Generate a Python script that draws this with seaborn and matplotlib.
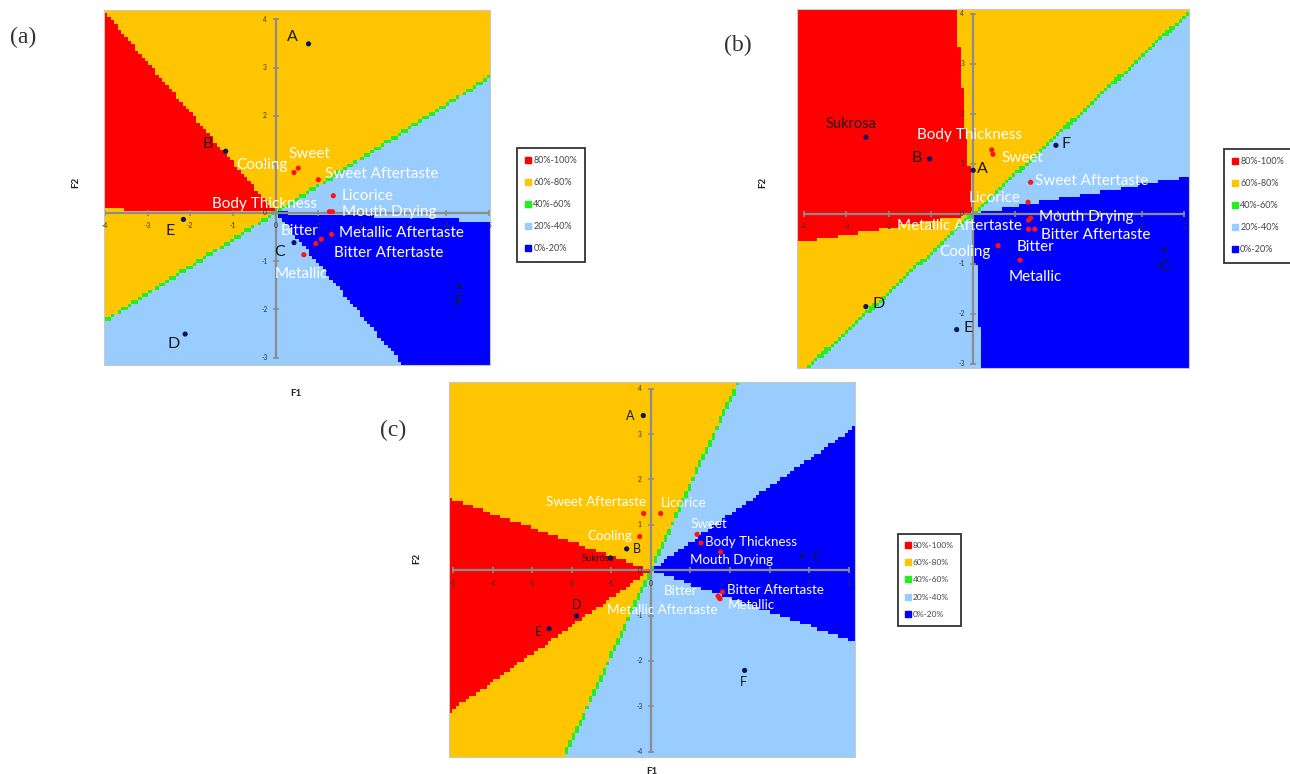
import numpy as np
import pandas as pd
import matplotlib.pyplot as plt
import seaborn as sns
from matplotlib.colors import ListedColormap
from matplotlib.lines import Line2D

# zones of the preference map, low to high
zone_labels = ['0%-20%', '20%-40%', '40%-60%', '60%-80%', '80%-100%']
zone_colors = ['#0000FF', '#99CCFF', '#22EE22', '#FFC600', '#FF0000']

# ---- panel (a) ----
a_products = ['A', 'B', 'C', 'D', 'E', 'F']
a_prod_x = [0.77, -1.17, 0.43, -2.12, -2.16, 4.30]
a_prod_y = [3.49, 1.27, -0.62, -2.51, -0.14, -1.53]
a_attrs = ['Cooling', 'Sweet', 'Sweet Aftertaste', 'Licorice', 'Body Thickness',
           'Mouth Drying', 'Metallic Aftertaste', 'Bitter', 'Bitter Aftertaste', 'Metallic']
a_attr_x = [0.43, 0.53, 1.00, 1.35, 1.26, 1.33, 1.31, 0.94, 1.07, 0.66]
a_attr_y = [0.83, 0.92, 0.68, 0.35, 0.02, 0.02, -0.45, -0.64, -0.55, -0.87]
# sector edges (deg, around origin) and zone index of the sector starting at each edge
a_edges = [-46.5, -2, 29.2, 134, 179, 209.2]
a_zones = [0, 1, 3, 4, 3, 1]
a_green = 29.2

# ---- panel (b) ----
b_products = ['Sukrosa', 'A', 'B', 'C', 'D', 'E', 'F']
b_prod_x = [-2.54, 0.0, -1.03, 4.53, -2.54, -0.39, 1.96]
b_prod_y = [1.53, 0.87, 1.10, -0.72, -1.86, -2.32, 1.37]
b_attrs = ['Body Thickness', 'Sweet', 'Sweet Aftertaste', 'Licorice', 'Mouth Drying',
           'Bitter Aftertaste', 'Metallic Aftertaste', 'Bitter', 'Cooling', 'Metallic']
b_attr_x = [0.44, 0.47, 1.36, 1.30, 1.36, 1.46, 1.31, 0.59, 1.31, 1.11]
b_attr_y = [1.28, 1.19, 0.63, 0.23, -0.09, -0.31, -0.31, -0.64, -0.13, -0.93]
b_edges = [-86.3, 8.3, 38.3, 95.8, 188, 218.3]
b_zones = [0, 1, 3, 4, 3, 1]
b_green = 38.3

# ---- panel (c) ----
c_products = ['A', 'B', 'C', 'D', 'E', 'F', 'Sukrosa']
c_prod_x = [-0.19, -0.61, 3.82, -1.88, -2.57, 2.37, -1.02]
c_prod_y = [3.41, 0.47, 0.32, -1.01, -1.29, -2.21, 0.27]
c_attrs = ['Sweet Aftertaste', 'Licorice', 'Cooling', 'Sweet', 'Body Thickness', 'Mouth Drying',
           'Bitter Aftertaste', 'Metallic', 'Bitter', 'Metallic Aftertaste']
c_attr_x = [-0.18, 0.25, -0.28, 1.17, 1.27, 1.76, 1.81, 1.73, 1.70, 1.75]
c_attr_y = [1.25, 1.25, 0.74, 0.79, 0.60, 0.40, -0.48, -0.61, -0.57, -0.63]
c_edges = [-17, 31.5, 62, 162.7, 211.6, 242]
c_zones = [0, 1, 3, 4, 3, 1]
c_green = 62

# ---- label placement (offset in pixels, alignment) ----
a_prod_pos = [(-16, 7, 'center'), (-18, 7, 'center'), (-14, -9, 'center'),
              (-12, -10, 'center'), (-13, -12, 'center'), (0, -15, 'center')]
a_attr_pos = [(-6, 8, 'right'), (-10, 14, 'left'), (7, 6, 'left'), (8, 0, 'left'),
              (-12, 8, 'right'), (10, 0, 'left'), (7, 1, 'left'), (3, 13, 'right'),
              (13, -14, 'left'), (-2.5, -19, 'center')]
b_prod_pos = [(-15, 13, 'center'), (9, 1, 'center'), (-13, 1, 'center'), (0, -17, 'center'),
              (13, 3, 'center'), (11, 2, 'center'), (10, 1, 'center')]
b_attr_pos = [(-22, 15, 'center'), (8, -4, 'left'), (4, 1, 'left'), (-8, 4, 'right'),
              (8, 1, 'left'), (6, -6, 'left'), (-7, 3, 'right'), (19, -1, 'left'),
              (-38, -32, 'right'), (15.5, -17, 'center')]
c_prod_pos = [(-12.7, 0, 'center'), (10, 0, 'center'), (15, -1, 'center'), (0, 11, 'center'),
              (-11, -3, 'center'), (-1, -12, 'center'), (-12, -1, 'center')]
c_attr_pos = [(2.7, 11, 'right'), (0, 10, 'left'), (-7, 1, 'right'), (-7, 10, 'left'),
              (4, 1, 'left'), (-30, -8, 'left'), (5, 2, 'left'), (8, -7, 'left'),
              (-20.6, 5, 'right'), (-2.5, -11.4, 'right')]

sns.set_style('white')
plt.rcParams['font.family'] = ['Lato', 'DejaVu Sans']

W, H = 1290, 774
fig = plt.figure(figsize=(W / 100, H / 100), dpi=100)


def px_axes(left, top, right, bottom):
    return fig.add_axes([left / W, 1 - bottom / H, (right - left) / W, (bottom - top) / H])


def zone_grid(edges, zones, green, xlim, ylim, nx, ny):
    xe = np.linspace(xlim[0], xlim[1], nx + 1)
    ye = np.linspace(ylim[0], ylim[1], ny + 1)
    X, Y = np.meshgrid((xe[:-1] + xe[1:]) / 2, (ye[:-1] + ye[1:]) / 2)
    ang = (np.degrees(np.arctan2(Y, X)) - edges[0]) % 360
    rel = (np.array(edges) - edges[0]) % 360
    Z = np.array(zones)[np.searchsorted(rel, ang, side='right') - 1]
    t = np.radians(green)
    dx, dy = xe[1] - xe[0], ye[1] - ye[0]
    tol = 0.58 * (dx / 2 * abs(np.sin(t)) + dy / 2 * abs(np.cos(t)))
    Z[np.abs(X * np.sin(t) - Y * np.cos(t)) < tol] = 2
    return xe, ye, Z


def draw_panel(ax, box, xlim, ylim, xticks, yticks, edges, zones, green,
               prods, px, py, ppos, attrs, ax_, ay_, apos, fs, pfs, sfs):
    cell = 3.4
    nx = int((box[2] - box[0]) / cell)
    ny = int((box[3] - box[1]) / cell)
    xe, ye, Z = zone_grid(edges, zones, green, xlim, ylim, nx, ny)
    ax.pcolormesh(xe, ye, Z, cmap=ListedColormap(zone_colors), vmin=-0.5, vmax=4.5,
                  shading='flat', zorder=0)

    # axis cross with ticks
    ax.plot([xticks[0], xticks[-1]], [0, 0], color='#8C8C8C', lw=1.6, zorder=2)
    ax.plot([0, 0], [yticks[0], yticks[-1]], color='#8C8C8C', lw=1.6, zorder=2)
    ax.plot(xticks, [0] * len(xticks), ls='none', marker='|', ms=5, mew=1.2, color='#8C8C8C', zorder=2)
    ax.plot([0] * len(yticks), yticks, ls='none', marker='_', ms=5, mew=1.2, color='#8C8C8C', zorder=2)
    for v in xticks:
        ax.annotate(str(v), (v, 0), xytext=(0, -13), textcoords='offset pixels',
                    ha='center', va='center', fontsize=4.8, color='#333333', zorder=3)
    for v in yticks:
        ax.annotate(str(v), (0, v), xytext=(-11, 0), textcoords='offset pixels',
                    ha='center', va='center', fontsize=4.8, color='#333333', zorder=3)

    df = pd.DataFrame({
        'x': list(px) + list(ax_),
        'y': list(py) + list(ay_),
        'kind': ['product'] * len(px) + ['attribute'] * len(ax_),
    })
    sns.scatterplot(data=df, x='x', y='y', hue='kind',
                    palette={'product': '#0A1466', 'attribute': '#FF1414'},
                    s=14, linewidth=0, legend=False, ax=ax, zorder=5)

    for name, x, y, (ox, oy, ha) in zip(prods, px, py, ppos):
        size = sfs if name == 'Sukrosa' else pfs
        ax.annotate(name, (x, y), xytext=(ox, oy), textcoords='offset pixels',
                    ha=ha, va='center', fontsize=size, color='#1A1A1A', zorder=6)
    for name, x, y, (ox, oy, ha) in zip(attrs, ax_, ay_, apos):
        ax.annotate(name, (x, y), xytext=(ox, oy), textcoords='offset pixels',
                    ha=ha, va='center', fontsize=fs, color='white', zorder=6)

    ax.set_xlim(xlim)
    ax.set_ylim(ylim)
    ax.set_xticks([])
    ax.set_yticks([])
    ax.set_xlabel('')
    ax.set_ylabel('')
    for sp in ax.spines.values():
        sp.set_color('#C8C8C8')
        sp.set_linewidth(0.8)


def zone_legend(left, top, fontsize, spacing):
    handles = [Line2D([], [], ls='none', marker='s', ms=4, color=c) for c in zone_colors[::-1]]
    leg = fig.legend(handles, zone_labels[::-1], loc='upper left',
                     bbox_to_anchor=(left / W, 1 - top / H), frameon=True, fancybox=False,
                     edgecolor='black', fontsize=fontsize, handlelength=0.6, handletextpad=0.3,
                     labelspacing=spacing, borderpad=0.9, borderaxespad=0)
    leg.get_frame().set_linewidth(1.3)
    for t in leg.get_texts():
        t.set_color('#444444')


box_a = (104, 10, 490, 365)
box_b = (797, 9, 1189, 368)
box_c = (449, 382, 855, 757)

ax_a = px_axes(*box_a)
draw_panel(ax_a, box_a, (-4.02, 5.02), (-3.15, 4.19), list(range(-4, 6)), list(range(-3, 5)),
           a_edges, a_zones, a_green, a_products, a_prod_x, a_prod_y, a_prod_pos,
           a_attrs, a_attr_x, a_attr_y, a_attr_pos, 11, 11.5, 10)

ax_b = px_axes(*box_b)
draw_panel(ax_b, box_b, (-4.17, 5.11), (-3.09, 4.10), list(range(-4, 6)), list(range(-3, 5)),
           b_edges, b_zones, b_green, b_products, b_prod_x, b_prod_y, b_prod_pos,
           b_attrs, b_attr_x, b_attr_y, b_attr_pos, 11, 11.5, 10.5)

ax_c = px_axes(*box_c)
draw_panel(ax_c, box_c, (-5.10, 5.16), (-4.12, 4.15), list(range(-5, 6)), list(range(-4, 5)),
           c_edges, c_zones, c_green, c_products, c_prod_x, c_prod_y, c_prod_pos,
           c_attrs, c_attr_x, c_attr_y, c_attr_pos, 9.6, 9, 6.8)

# axis titles and panel letters
for x, y, s, rot in [(296, 393, 'F1', 0), (76, 182, 'F2', 90), (763, 182, 'F2', 90),
                     (417, 558, 'F2', 90), (652, 771, 'F1', 0)]:
    fig.text(x / W, 1 - y / H, s, ha='center', va='center', rotation=rot,
             fontsize=7, fontweight='bold', color='#222222')
for x, y, s in [(23, 37, '(a)'), (738, 45, '(b)'), (393, 430, '(c)')]:
    fig.text(x / W, 1 - y / H, s, ha='center', va='center', fontsize=17,
             family='Liberation Serif', color='#333333')

zone_legend(517, 148, 6.5, 1.45)
zone_legend(1224, 149, 6.5, 1.45)
zone_legend(898, 534, 6, 1.25)

fig.savefig('out.png', dpi=100)
